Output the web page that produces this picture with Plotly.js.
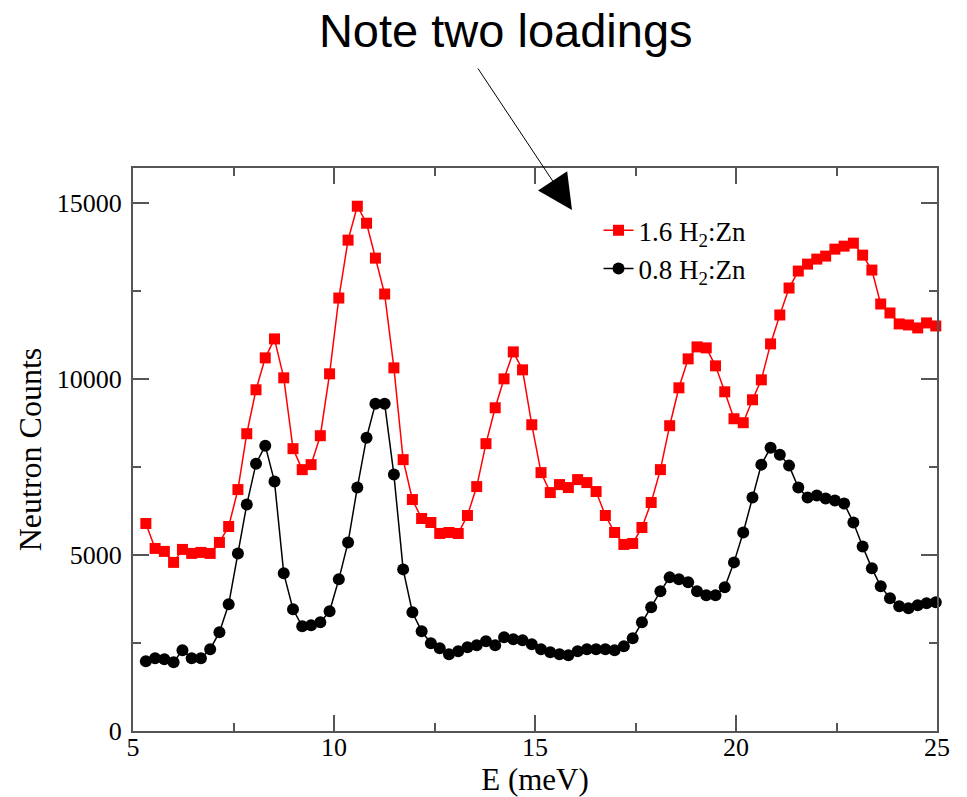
<!DOCTYPE html>
<html>
<head>
<meta charset="utf-8">
<script src="https://cdn.plot.ly/plotly-3.0.1.min.js"></script>
<style>html,body{margin:0;padding:0;background:#fff;}#chart{width:967px;height:797px;}</style>
</head>
<body>
<div id="chart"></div>
<script>
// Energy transfer (meV)
var energy = [5.32,5.55,5.78,6.01,6.23,6.46,6.69,6.92,7.15,7.38,
  7.61,7.83,8.06,8.29,8.52,8.75,8.98,9.21,9.43,9.66,
  9.89,10.12,10.35,10.58,10.81,11.03,11.26,11.49,11.72,11.95,
  12.18,12.41,12.63,12.86,13.09,13.32,13.55,13.78,14.01,14.23,
  14.46,14.69,14.92,15.15,15.38,15.61,15.83,16.06,16.29,16.52,
  16.75,16.98,17.21,17.43,17.66,17.89,18.12,18.35,18.58,18.81,
  19.03,19.26,19.49,19.72,19.95,20.18,20.41,20.63,20.86,21.09,
  21.32,21.55,21.78,22.01,22.23,22.46,22.69,22.92,23.15,23.38,
  23.60,23.83,24.06,24.29,24.52,24.74,24.97];

// 1.6 H2:Zn loading
var counts16 = [5897,5189,5104,4792,5160,5047,5075,5047,5359,5812,
  6861,8449,9697,10604,11143,10037,8024,7428,7570,8392,
  10150,12305,13950,14914,14431,13439,12418,10320,7712,6578,
  6039,5926,5614,5642,5614,6124,6946,8166,9186,10008,
  10774,10264,8704,7343,6776,7003,6918,7145,7060,6805,
  6124,5642,5302,5330,5784,6493,7428,8676,9753,10576,
  10916,10888,10377,9640,8874,8761,9413,9980,11001,11823,
  12589,13071,13269,13411,13496,13694,13779,13864,13524,13099,
  12135,11880,11568,11540,11455,11597,11511];

// 0.8 H2:Zn loading
var counts08 = [1985,2070,2041,1956,2297,2070,2070,2325,2807,3601,
  5047,6436,7598,8109,7088,4480,3459,2977,3005,3090,
  3402,4310,5359,6918,8336,9300,9300,7287,4593,3374,
  2835,2495,2353,2183,2268,2382,2438,2552,2438,2665,
  2608,2580,2467,2325,2240,2183,2155,2268,2325,2325,
  2325,2297,2410,2637,3090,3516,3969,4366,4310,4225,
  3969,3856,3856,4083,4792,5642,6635,7570,8052,7854,
  7542,6918,6635,6691,6606,6550,6464,5926,5245,4622,
  4111,3771,3544,3487,3572,3629,3657];

var seriesNames = ["1.6 H<sub>2</sub>:Zn", "0.8 H<sub>2</sub>:Zn"];
var titleText = "Note two loadings";
var xTitle = "E (meV)";
var yTitle = "Neutron Counts";

var serif = "Liberation Serif, Times New Roman, serif";
var axisColor = "#555555";

var traces = [
  {x: energy, y: counts16, name: seriesNames[0], type: "scatter", mode: "lines+markers",
   line: {color: "#ff0000", width: 1.5},
   marker: {symbol: "square", size: 11, color: "#ff0000"},
   cliponaxis: false},
  {x: energy, y: counts08, name: seriesNames[1], type: "scatter", mode: "lines+markers",
   line: {color: "#000000", width: 1.5},
   marker: {symbol: "circle", size: 12, color: "#000000"},
   cliponaxis: false}
];

var axisCommon = {
  showgrid: false, zeroline: false, showline: true, linecolor: axisColor, linewidth: 2,
  mirror: "ticks", ticks: "inside", ticklen: 16, tickwidth: 2, tickcolor: axisColor,
  tickfont: {family: serif, size: 26, color: "#000"}
};

var layout = {
  width: 967, height: 797,
  paper_bgcolor: "#fff", plot_bgcolor: "#fff",
  margin: {l: 133, r: 30, t: 168, b: 66},
  showlegend: true,
  legend: {x: 0.579, y: 0.932, xanchor: "left", yanchor: "top", tracegroupgap: 0,
           bgcolor: "rgba(0,0,0,0)", font: {family: serif, size: 27, color: "#000"}},
  title: {text: titleText, x: 0.523, xref: "container", xanchor: "center",
          y: 0.962, yref: "container", yanchor: "middle",
          font: {family: "Liberation Sans, Arial, sans-serif", size: 47, color: "#000"}},
  xaxis: Object.assign({}, axisCommon, {
    range: [5, 25], dtick: 5, tick0: 5, ticklabelstandoff: -8,
    minor: {dtick: 2.5, ticks: "inside", ticklen: 8, tickwidth: 2, tickcolor: axisColor},
    title: {text: xTitle, standoff: 4, font: {family: serif, size: 31, color: "#000"}}
  }),
  yaxis: Object.assign({}, axisCommon, {
    range: [0, 16000], dtick: 5000, tick0: 0, tickformat: "d", ticklabelstandoff: 4,
    minor: {dtick: 2500, ticks: "inside", ticklen: 8, tickwidth: 2, tickcolor: axisColor},
    title: {text: yTitle, standoff: 6, font: {family: serif, size: 32, color: "#000"}}
  }),
  annotations: [{
    x: 15.92, y: 14806, xref: "x", yref: "y",
    axref: "pixel", ayref: "pixel", ax: -95, ay: -143,
    showarrow: true, arrowhead: 2, arrowsize: 7, arrowwidth: 1, arrowcolor: "#000",
    text: ""
  }]
};

Plotly.newPlot("chart", traces, layout, {displayModeBar: false, staticPlot: true});
</script>
</body>
</html>
